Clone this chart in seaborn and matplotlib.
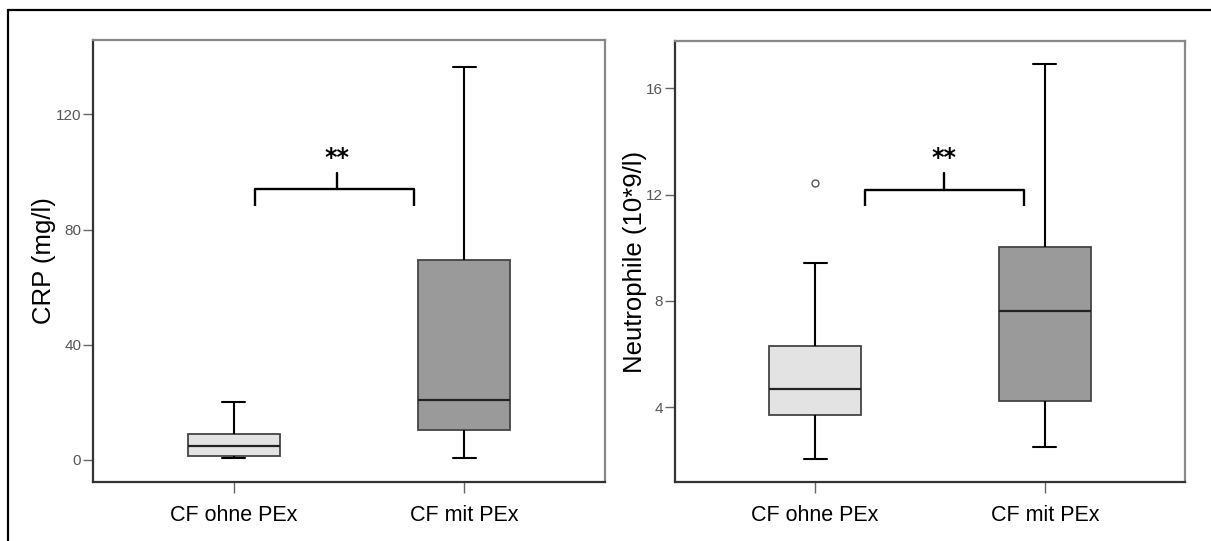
import matplotlib
matplotlib.use("Agg")
import matplotlib.pyplot as plt
from matplotlib.lines import Line2D
import seaborn as sns
import pandas as pd

# ---------------- data ----------------
groups = ["CF ohne PEx", "CF mit PEx"]
# five-number summaries: [min whisker, Q1, median, Q3, max whisker]
crp_ohne = [0.8, 1.3, 5.0, 9.0, 20.1]
crp_mit = [0.8, 10.5, 20.8, 69.6, 136.3]
neu_ohne = [2.03, 3.70, 4.67, 6.30, 9.43]
neu_mit = [2.48, 4.24, 7.60, 10.02, 16.91]
neu_ohne_outliers = [12.43]

crp_ticks = [0, 40, 80, 120]
neu_ticks = [4, 8, 12, 16]
crp_label = "CRP (mg/l)"
neu_label = "Neutrophile (10*9/l)"
sig_text = "**"

# ---------------- style ----------------
sns.set_theme(style="white")
plt.rcParams["font.family"] = ["Liberation Sans", "DejaVu Sans"]

palette = {groups[0]: "#e3e3e3", groups[1]: "#9a9a9a"}

fig = plt.figure(figsize=(12.11, 5.41), dpi=100)
W, H = 1211, 541
ax1 = fig.add_axes([93 / W, 1 - 482 / H, 512 / W, 442 / H])
ax2 = fig.add_axes([675 / W, 1 - 482 / H, 510 / W, 441 / H])

# outer frame (left + top)
fig.add_artist(Line2D([8 / W, 8 / W], [0, 1 - 10 / H], color="black", lw=1.6,
                      transform=fig.transFigure))
fig.add_artist(Line2D([8 / W, 1], [1 - 10 / H, 1 - 10 / H], color="black", lw=1.6,
                      transform=fig.transFigure))


def make_df(a, b):
    return pd.DataFrame({"group": [groups[0]] * len(a) + [groups[1]] * len(b),
                         "value": list(a) + list(b)})


def draw(ax, a, b, ylim, ticks, ylabel, label_x, bracket, sig_y, outliers=None):
    df = make_df(a, b)
    sns.boxplot(data=df, x="group", y="value", hue="group", order=groups,
                hue_order=groups, palette=palette, legend=False, ax=ax,
                width=0.4, whis=(0, 100), showfliers=False, dodge=False,
                boxprops=dict(edgecolor="#444444", linewidth=1.3),
                medianprops=dict(color="#222222", linewidth=1.6),
                whiskerprops=dict(color="black", linewidth=1.5),
                capprops=dict(color="black", linewidth=1.5),
                capwidths=0.1)
    if outliers:
        sns.stripplot(x=[groups[0]] * len(outliers), y=outliers, order=groups,
                      jitter=False, ax=ax, marker="o", size=5,
                      color="white", edgecolor="#555555", linewidth=1.0)
    ax.set_xlim(-0.61, 1.61)
    ax.set_ylim(*ylim)
    ax.set_yticks(ticks)
    ax.set_yticklabels([str(t) for t in ticks], fontsize=11, color="#555555")
    ax.set_xticks([0, 1])
    ax.set_xticklabels(groups, fontsize=15.5, color="black")
    ax.set_xlabel("")
    ax.set_ylabel(ylabel, fontsize=18.5, color="black")
    ax.yaxis.label.set_verticalalignment("center")
    ax.yaxis.set_label_coords(label_x, 0.5)
    ax.tick_params(axis="y", which="major", direction="out", length=7, width=1,
                   color="#666666", pad=1.5, left=True)
    ax.tick_params(axis="x", which="major", direction="out", length=8, width=1,
                   color="#666666", pad=8.5, bottom=True)
    for side in ["left", "bottom"]:
        ax.spines[side].set_color("#333333")
        ax.spines[side].set_linewidth(1.6)
    for side in ["top", "right"]:
        ax.spines[side].set_color("#888888")
        ax.spines[side].set_linewidth(1.6)
    # significance bracket
    x0, x1, xc, y_bar, y_down, y_up = bracket
    ax.plot([x0, x0, x1, x1], [y_down, y_bar, y_bar, y_down], color="black",
            lw=1.7, solid_capstyle="butt")
    ax.plot([xc, xc], [y_bar, y_up], color="black", lw=1.7)
    ax.text(xc, sig_y, sig_text, ha="center", va="baseline", fontsize=17,
            fontweight="bold", color="black", family=["DejaVu Sans"])


draw(ax1, crp_ohne, crp_mit, (-7.64, 145.8), crp_ticks, crp_label, -0.0957,
     (0.091, 0.78, 0.447, 94.0, 88.3, 99.7), 102.5)
draw(ax2, neu_ohne, neu_mit, (1.18, 17.78), neu_ticks, neu_label, -0.078,
     (0.215, 0.91, 0.562, 12.19, 11.57, 12.80), 13.12, neu_ohne_outliers)

fig.savefig("out.png", dpi=100)
